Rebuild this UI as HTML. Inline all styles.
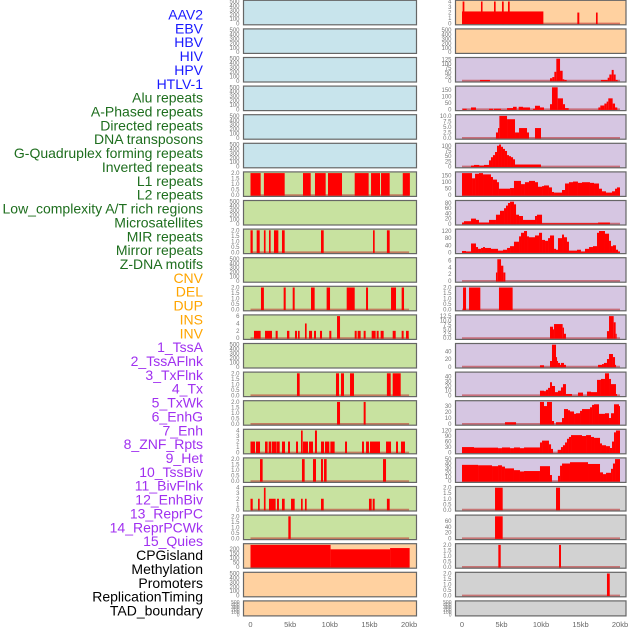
<!DOCTYPE html>
<html><head><meta charset="utf-8"><style>
html,body{margin:0;padding:0;background:#fff;}
svg{display:block;font-family:"Liberation Sans",sans-serif;}
</style></head><body>
<svg id="chart" width="630" height="630" viewBox="0 0 630 630" xmlns="http://www.w3.org/2000/svg"></svg>
<script>
const trackLabels = ["AAV2","EBV","HBV","HIV","HPV","HTLV-1","Alu repeats","A-Phased repeats","Directed repeats","DNA transposons","G-Quadruplex forming repeats","Inverted repeats","L1 repeats","L2 repeats","Low_complexity A/T rich regions","Microsatellites","MIR repeats","Mirror repeats","Z-DNA motifs","CNV","DEL","DUP","INS","INV","1_TssA","2_TssAFlnk","3_TxFlnk","4_Tx","5_TxWk","6_EnhG","7_Enh","8_ZNF_Rpts","9_Het","10_TssBiv","11_BivFlnk","12_EnhBiv","13_ReprPC","14_ReprPCWk","15_Quies","CPGisland","Methylation","Promoters","ReplicationTiming","TAD_boundary"];
const trackGroups = ["virus","virus","virus","virus","virus","virus","repeat","repeat","repeat","repeat","repeat","repeat","repeat","repeat","repeat","repeat","repeat","repeat","repeat","sv","sv","sv","sv","sv","chrom","chrom","chrom","chrom","chrom","chrom","chrom","chrom","chrom","chrom","chrom","chrom","chrom","chrom","chrom","other","other","other","other","other"];
const xTickKb = [0,5,10,15,20];
const xTickLabels = ["0","5kb","10kb","15kb","20kb"];

const ticksEmpty = ["0","100","200","300","400","500"];
const ticksTwo = ["0.0","0.5","1.0","1.5","2.0"];
const ticksFour = ["0","1","2","3","4"];

const segL6 = [[0,1.28,2],[1.69,4.31,2],[6.62,7.59,2],[8.13,9.48,2],[9.77,11.54,2],[13.14,14.9,2],[15.2,16.33,2],[16.46,17.55,2],[19.2,20.1,2]];
const segL8 = [[0,0.28,2],[0.78,1.16,2],[1.69,1.9,2],[2.33,2.54,2],[2.96,3.51,2],[3.97,4.31,2],[8.89,9.23,2],[15.45,15.66,2],[17.2,17.55,2]];
const segL10 = [[1.32,1.69,2],[4.18,4.44,2],[5.32,5.57,2],[7.63,8.09,2],[9.6,10.03,2],[12.13,13.14,2],[14.57,14.82,2],[17.72,18.35,2],[19.06,19.36,2]];
const segL11 = [[0.44,1.28,2],[1.83,2.71,2],[3.17,3.43,2],[4.6,4.9,2],[5.61,5.87,2],[5.99,6.2,2],[6.87,7.08,4],[7.38,7.76,2],[8.01,8.26,2],[8.76,9.02,2],[9.94,10.19,2],[10.91,11.29,6],[13.14,13.39,2],[13.51,13.89,2],[14.27,14.52,2],[15.28,15.78,2],[15.91,16.16,2],[16.41,16.79,2],[17.93,18.31,2],[19.06,19.31,2],[19.61,19.95,2]];
const segL13 = [[5.86,6.2,2],[10.78,11.16,2],[11.41,11.79,2],[12.55,13.05,2],[17.2,17.68,2],[17.93,18.94,2]];
const segL14 = [[10.91,11.29,2],[14.27,14.52,2]];
const segL15 = [[0,0.57,2],[0.69,1.2,2],[1.83,2.16,2],[2.29,2.59,2],[2.67,3.3,2],[3.34,3.68,2],[3.97,4.35,2],[4.73,4.98,2],[5.74,5.99,2],[6.37,6.58,4],[6.62,7.25,2],[7.38,7.88,2],[8.13,8.38,4],[8.89,9.27,2],[9.39,9.94,2],[10.07,10.61,2],[11.92,12.17,2],[14.06,14.31,2],[14.57,14.94,2],[15.07,16.33,2],[17.09,17.72,2],[18.35,18.6,2],[18.98,19.48,2]];
const segL16 = [[1.2,1.53,2],[6.49,6.83,2],[7.88,8.26,2],[8.89,9.14,2],[9.27,9.6,2],[16.71,17.09,2]];
const segL17 = [[0,0.28,2],[0.95,1.16,2],[1.69,1.9,4],[2.33,3.17,2],[3.34,3.59,2],[3.97,4.31,2],[5.11,5.57,2],[6.37,6.58,2],[6.87,7.08,2],[8.89,9.23,2],[14.94,15.28,2],[15.41,15.66,2],[17.2,17.55,2]];
const segL18 = [[4.77,5.07,2]];
const segL19 = [[0,10.1,245],[10.1,17.6,196],[17.6,20.07,210]];

const segR0 = [[0,10.3,2.2],[0.08,0.3,4],[2.4,2.6,4],[4.05,4.26,4],[5.06,5.28,4],[5.82,6.04,4],[14.6,14.85,2],[16.96,17.17,2]];
const segR2 = [[2.28,3.54,5],[11.14,11.43,15],[11.43,11.69,22],[11.69,11.94,53],[11.94,12.41,130],[12.41,12.74,59],[12.74,12.95,9],[12.95,13.25,5],[17.59,18.44,5],[18.44,18.65,18],[18.65,18.95,37],[18.95,19.2,64],[19.2,19.45,37],[19.45,19.7,5]];
const segR3 = [[0.08,0.59,5],[1.14,1.77,15],[3.42,3.92,5],[4.05,4.94,5],[5.7,6.46,10],[6.46,6.92,20],[7.17,7.72,20],[7.72,8.61,15],[8.99,9.24,5],[9.24,9.87,28],[9.87,10.38,15],[11.14,11.39,40],[11.39,12.11,170],[12.11,12.78,85],[12.78,13.04,40],[13.04,13.5,10],[17.26,17.51,15],[17.51,18.02,30],[18.02,18.31,45],[18.31,18.52,60],[18.52,19.07,85],[19.07,19.37,45],[19.37,19.66,15]];
const segR4 = [[4.3,4.56,2.5],[4.56,4.73,4.5],[4.73,5.7,10],[5.7,6.71,8.5],[6.71,7.22,2.5],[7.22,8.23,4.5],[8.23,8.48,2.5],[9.24,10.0,4.5]];
const segR5 = [[1.14,1.52,5],[1.52,2.19,8],[2.19,2.78,5],[2.78,3.42,8],[3.42,3.67,30],[3.67,3.92,45],[3.92,4.18,55],[4.18,4.43,70],[4.43,4.68,100],[4.68,4.94,106],[4.94,5.19,95],[5.19,5.44,85],[5.44,5.7,75],[5.7,5.95,55],[5.95,6.2,50],[6.2,6.46,45],[6.46,6.71,35],[6.71,10.0,10]];
const segR6 = [[0,1.27,170],[1.27,1.65,130],[1.65,2.15,165],[2.15,2.66,170],[2.66,3.67,160],[3.67,3.92,140],[3.92,4.43,120],[4.43,4.68,100],[4.68,6.08,50],[6.08,6.58,55],[6.58,7.47,110],[7.47,7.97,85],[7.97,8.48,100],[8.48,9.24,110],[9.24,9.62,100],[9.62,10.13,65],[10.13,10.38,70],[10.38,11.01,75],[11.01,11.39,60],[11.39,11.65,25],[11.65,12.66,20],[12.66,13.04,40],[13.04,13.54,90],[13.54,14.05,100],[14.05,14.68,105],[14.68,15.19,95],[15.19,16.2,100],[16.2,16.71,95],[16.71,17.34,90],[17.34,17.72,50],[17.72,18.23,30],[18.23,18.99,20],[18.99,19.37,30],[19.37,19.62,50],[19.62,20.0,60]];
const segR7 = [[0,0.25,5],[0.25,1.14,10],[1.14,1.77,20],[1.77,2.15,15],[2.15,3.42,5],[3.42,4.3,15],[4.3,4.81,35],[4.81,5.32,50],[5.32,5.57,60],[5.57,5.82,70],[5.82,6.08,80],[6.08,6.58,85],[6.58,6.84,75],[6.84,7.22,35],[7.22,7.72,30],[7.72,9.24,15],[9.24,9.49,30],[9.49,10.13,35],[10.13,17.22,2],[17.22,18.73,5]];
const segR8 = [[0,0.51,8],[0.51,1.14,5],[1.14,1.77,50],[1.77,2.03,30],[2.03,2.41,20],[2.41,2.66,25],[2.66,2.91,30],[2.91,3.67,25],[3.67,4.56,20],[4.56,5.19,10],[5.19,5.7,15],[5.7,6.08,25],[6.08,6.58,35],[6.58,7.22,60],[7.22,7.47,90],[7.47,7.85,110],[7.85,8.23,120],[8.23,8.48,90],[8.48,9.24,85],[9.24,9.75,95],[9.75,10.13,110],[10.13,10.51,70],[10.51,10.89,65],[10.89,11.14,80],[11.14,11.65,95],[11.65,11.9,20],[11.9,12.15,15],[12.15,12.66,80],[12.66,12.91,100],[12.91,13.29,85],[13.29,13.54,60],[13.54,14.56,10],[14.56,15.06,15],[15.06,15.57,5],[15.57,16.08,20],[16.08,16.58,30],[16.58,17.09,35],[17.09,17.34,110],[17.34,18.1,120],[18.1,18.61,105],[18.61,18.86,65],[18.86,19.11,35],[19.11,19.49,40],[19.49,19.75,15],[19.75,20,5]];
const segR9 = [[4.3,4.47,2.5],[4.47,4.94,6.4],[4.94,5.23,4.5],[5.23,5.49,2.5]];
const segR10 = [[0.13,0.51,2],[0.89,2.32,2],[4.68,6.41,2]];
const segR11 = [[11.14,11.52,6.5],[11.52,11.65,5],[11.65,12.74,8],[12.74,12.91,6],[12.91,13.16,2.5],[18.35,18.61,4],[18.61,19.2,12.5],[19.2,19.45,9],[19.45,19.58,2.5]];
const segR12 = [[9.87,10.38,4],[11.14,11.39,15],[11.39,11.9,57],[11.9,12.03,25],[12.03,12.15,15],[12.15,12.41,10],[12.41,12.53,5],[12.53,12.91,10],[12.91,13.16,5],[17.22,17.72,5],[17.72,17.97,7],[17.97,18.35,10],[18.35,18.61,20],[18.61,19.11,33],[19.11,19.37,25],[19.37,19.49,5]];
const segR13 = [[9.87,10.38,10],[10.38,10.63,9],[10.63,10.89,12],[10.89,11.14,16],[11.14,11.39,28],[11.39,11.77,20],[11.77,12.15,7],[12.15,12.53,10],[12.53,12.78,17],[12.78,13.16,24],[13.16,13.92,3],[14.68,15.32,6],[15.82,16.33,8],[16.33,17.09,7],[17.09,17.59,33],[17.59,18.1,35],[18.1,18.61,47],[18.61,18.86,35],[18.86,19.49,24],[19.49,19.62,3]];
const segR14 = [[5.44,6.84,3],[9.87,10.38,37],[10.38,10.76,30],[10.76,11.39,37],[11.39,11.65,5],[11.9,12.66,3],[12.66,12.91,10],[12.91,13.42,25],[13.42,13.67,23],[13.67,14.18,21],[14.18,14.43,17],[14.43,14.94,18],[14.94,15.19,22],[15.19,16.2,25],[16.2,16.46,28],[16.46,16.71,32],[16.71,17.34,33],[17.34,18.1,17],[18.1,18.61,18],[18.61,18.86,10],[18.86,19.24,18],[19.24,19.87,33],[19.87,20,30]];
const segR15 = [[0,1.52,30],[1.52,4.56,27],[4.56,5.06,24],[5.06,6.08,28],[6.08,6.58,24],[6.58,7.34,28],[7.34,7.85,24],[7.85,9.87,28],[9.87,10.13,55],[10.13,11.01,65],[11.01,11.27,45],[11.27,11.52,20],[12.11,12.53,15],[12.53,12.78,30],[12.78,13.04,40],[13.04,13.29,55],[13.29,13.54,75],[13.54,13.8,85],[13.8,15.19,95],[15.19,15.7,90],[15.7,16.33,95],[16.33,16.71,85],[16.71,17.47,80],[17.47,17.72,50],[17.72,18.23,40],[18.23,18.73,35],[18.73,18.99,25],[18.99,19.24,60],[19.24,19.49,110],[19.49,20,120]];
const segR16 = [[0,2.03,37],[2.03,3.8,36],[3.8,4.56,34],[4.56,5.06,36],[5.06,5.44,33],[5.44,6.58,29],[6.58,7.34,25],[7.34,7.85,22],[7.85,9.87,23],[9.87,11.14,34],[11.14,11.39,14],[12.15,12.41,12],[12.41,12.66,35],[12.66,13.67,40],[13.67,15.95,43],[15.95,17.47,39],[17.47,17.85,20],[17.85,18.23,16],[18.23,18.86,19],[18.86,19.11,28],[19.11,19.37,40],[19.37,20,50]];
const segR17 = [[4.18,5.15,2],[11.9,12.41,2]];
const segR18 = [[4.18,5.15,77]];
const segR19 = [[4.6,4.9,2],[12.28,12.53,2]];
const segR20 = [[18.35,18.7,2]];

const panels = [
 {col:0,row:0,bg:"virus",ymax:500,ticks:ticksEmpty,data:null},
 {col:0,row:1,bg:"virus",ymax:500,ticks:ticksEmpty,data:null},
 {col:0,row:2,bg:"virus",ymax:500,ticks:ticksEmpty,data:null},
 {col:0,row:3,bg:"virus",ymax:500,ticks:ticksEmpty,data:null},
 {col:0,row:4,bg:"virus",ymax:500,ticks:ticksEmpty,data:null},
 {col:0,row:5,bg:"virus",ymax:500,ticks:ticksEmpty,data:null},
 {col:0,row:6,bg:"repeat",ymax:2,ticks:ticksTwo,data:segL6},
 {col:0,row:7,bg:"repeat",ymax:500,ticks:ticksEmpty,data:null},
 {col:0,row:8,bg:"repeat",ymax:2,ticks:ticksTwo,data:segL8},
 {col:0,row:9,bg:"repeat",ymax:500,ticks:ticksEmpty,data:null},
 {col:0,row:10,bg:"repeat",ymax:2,ticks:ticksTwo,data:segL10},
 {col:0,row:11,bg:"repeat",ymax:6,ticks:["0","2","4","6"],data:segL11},
 {col:0,row:12,bg:"repeat",ymax:500,ticks:ticksEmpty,data:null},
 {col:0,row:13,bg:"repeat",ymax:2,ticks:ticksTwo,data:segL13},
 {col:0,row:14,bg:"repeat",ymax:2,ticks:ticksTwo,data:segL14},
 {col:0,row:15,bg:"repeat",ymax:4,ticks:ticksFour,data:segL15},
 {col:0,row:16,bg:"repeat",ymax:2,ticks:ticksTwo,data:segL16},
 {col:0,row:17,bg:"repeat",ymax:4,ticks:ticksFour,data:segL17},
 {col:0,row:18,bg:"repeat",ymax:2,ticks:ticksTwo,data:segL18},
 {col:0,row:19,bg:"sv",ymax:245,ticks:["0","50","100","150","200"],data:segL19},
 {col:0,row:20,bg:"sv",ymax:500,ticks:ticksEmpty,data:null},
 {col:0,row:21,bg:"sv",ymax:500,ticks:ticksEmpty,data:null},
 {col:1,row:0,bg:"sv",ymax:4,ticks:ticksFour,data:segR0},
 {col:1,row:1,bg:"sv",ymax:500,ticks:ticksEmpty,data:null},
 {col:1,row:2,bg:"chrom",ymax:130,ticks:["0","25","50","75","100","125"],data:segR2},
 {col:1,row:3,bg:"chrom",ymax:170,ticks:["0","50","100","150"],data:segR3},
 {col:1,row:4,bg:"chrom",ymax:10,ticks:["0.0","2.5","5.0","7.5","10.0"],data:segR4},
 {col:1,row:5,bg:"chrom",ymax:106,ticks:["0","25","50","75","100"],data:segR5},
 {col:1,row:6,bg:"chrom",ymax:170,ticks:["0","50","100","150"],data:segR6},
 {col:1,row:7,bg:"chrom",ymax:85,ticks:["0","20","40","60","80"],data:segR7},
 {col:1,row:8,bg:"chrom",ymax:124,ticks:["0","40","80","120"],data:segR8},
 {col:1,row:9,bg:"chrom",ymax:6.5,ticks:["0","2","4","6"],data:segR9},
 {col:1,row:10,bg:"chrom",ymax:2,ticks:ticksTwo,data:segR10},
 {col:1,row:11,bg:"chrom",ymax:12.5,ticks:["0.0","2.5","5.0","7.5","10.0","12.5"],data:segR11},
 {col:1,row:12,bg:"chrom",ymax:57,ticks:["0","20","40"],data:segR12},
 {col:1,row:13,bg:"chrom",ymax:47,ticks:["0","10","20","30","40"],data:segR13},
 {col:1,row:14,bg:"chrom",ymax:37,ticks:["0","10","20","30"],data:segR14},
 {col:1,row:15,bg:"chrom",ymax:120,ticks:["0","30","60","90","120"],data:segR15},
 {col:1,row:16,bg:"chrom",ymax:50,ticks:["0","10","20","30","40","50"],data:segR16},
 {col:1,row:17,bg:"other",ymax:2,ticks:ticksTwo,data:segR17},
 {col:1,row:18,bg:"other",ymax:77,ticks:["0","20","40","60"],data:segR18},
 {col:1,row:19,bg:"other",ymax:2,ticks:ticksTwo,data:segR19},
 {col:1,row:20,bg:"other",ymax:2,ticks:ticksTwo,data:segR20},
 {col:1,row:21,bg:"other",ymax:500,ticks:ticksEmpty,data:null}
];

const NS = "http://www.w3.org/2000/svg";
const svg = document.getElementById("chart");
const bgColors = {virus:"#c8e4ec",repeat:"#c8e2a0",sv:"#ffd1a0",chrom:"#d6c6e2",other:"#d2d2d2"};
const labelColors = {virus:"#1a1aff",repeat:"#1e6e1e",sv:"#ffa500",chrom:"#a030f0",other:"#000"};
const colX = [[243.5,416.5],[455.5,626]];
const kb0 = [250.5,462];
const pxPerKb = [7.93,7.9];
function xScale(col,kb){return kb0[col]+kb*pxPerKb[col];}
function rowTop(r){return 0.3+28.6*r;}
function rowH(r){return r===21?15:24.5;}
function mk(tag,attrs){const e=document.createElementNS(NS,tag);for(const k in attrs)e.setAttribute(k,attrs[k]);svg.appendChild(e);return e;}

trackLabels.forEach((t,i)=>{
  const e=mk("text",{x:203,y:19.5+13.86*i,"text-anchor":"end","font-size":"14",fill:labelColors[trackGroups[i]]});
  
  
  e.textContent=t;
});

panels.forEach(p=>{
  const [x0,x1]=colX[p.col];
  const top=rowTop(p.row), h=rowH(p.row);
  const yb=top+h-1.2, yt=top+1.2;
  const yS=v=>yb-(v/p.ymax)*(yb-yt);
  const bg=mk("rect",{x:x0,y:top,width:x1-x0,height:h,fill:bgColors[p.bg]});
  
  
  if(p.data){
    const base=mk("line",{x1:xScale(p.col,0),x2:xScale(p.col,20),y1:yb,y2:yb,stroke:"rgba(190,40,40,0.55)","stroke-width":2});
    
    
    p.data.forEach(s=>{
      const xa=xScale(p.col,s[0]), xb=xScale(p.col,s[1]);
      const y=Math.max(yS(s[2]),top+0.5);
      const r=mk("rect",{x:xa,y:y,width:Math.max(xb-xa,1),height:yb-y+0.5,fill:"#ff0000"});
      
      
    });
  }
  const br=mk("rect",{x:x0,y:top,width:x1-x0,height:h,fill:"none",stroke:"#666","stroke-width":1.2});
  
  
  p.ticks.forEach((t,i)=>{
    const v = p.ymax===500 ? i*100 : parseFloat(t);
    const ty=yS(v);
    const tx=mk("text",{x:x0-4,y:ty+2,"text-anchor":"end","font-size":(p.row===21?"5":"6"),fill:"#777"});
    
    
    tx.textContent=t;
  });
});

[0,1].forEach(c=>{
  xTickKb.forEach((k,i)=>{
    const t=mk("text",{x:xScale(c,k),y:627,"text-anchor":"middle","font-size":"7.5",fill:"#666"});
    
    
    t.textContent=xTickLabels[i];
  });
});
</script>
</body></html>
